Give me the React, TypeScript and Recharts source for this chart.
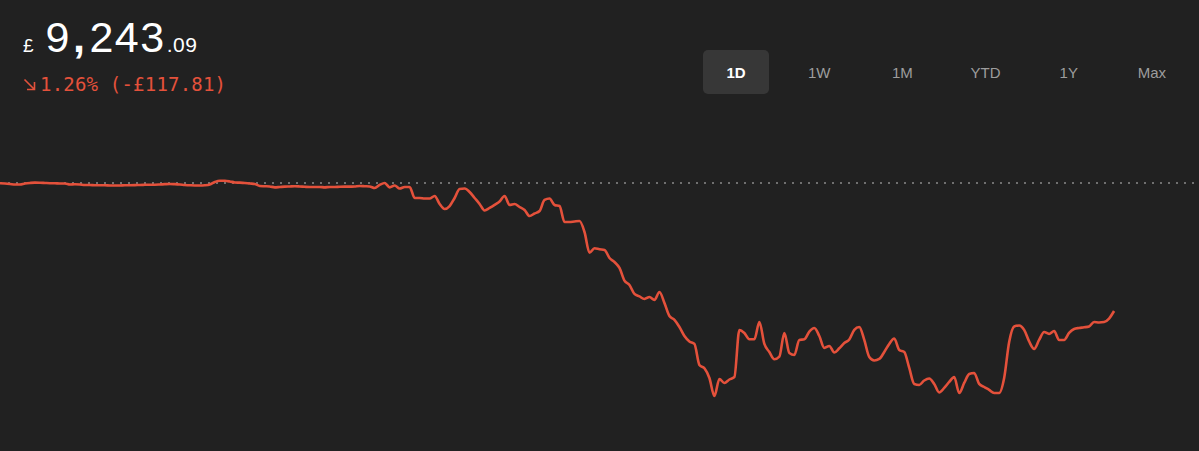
import { Line, LineChart, ReferenceLine, XAxis, YAxis } from 'recharts'

const CURRENCY = '£'
const PRICE_WHOLE = '9,243'
const PRICE_PENCE = '.09'
const CHANGE_LABEL = '1.26% (-£117.81)'
const RANGES = ['1D', '1W', '1M', 'YTD', '1Y', 'Max']
const ACTIVE_RANGE = '1D'

// whole trading session split into slots; the day is not finished yet
const SESSION_SLOTS = 240

// change against previous close (£), one reading per slot
const CHANGE = [
  -0.3, -0.5, -0.9, -1.4, -1.4, -0.5, 0, 0.3, 0.2, 0,
  -0.2, -0.3, -0.5, -0.5, -1.4, -1.2, -1.4, -1.8, -1.8, -2.1,
  -2.1, -2.1, -2.3, -2.3, -2.3, -2.1, -2.1, -2.0, -1.8, -1.7,
  -1.6, -1.6, -1.4, -1.1, -0.9, -1.1, -1.4, -1.8, -2.1, -2.3,
  -2.3, -2.1, -1.4, 0.9, 2.1, 2.0, 1.4, 0.5, 0.3, 0,
  -0.5, -0.9, -2.8, -3.0, -3.2, -4.0, -3.7, -3.4, -3.2, -3.0,
  -3.2, -3.5, -3.7, -3.7, -3.7, -4.0, -3.7, -3.7, -3.5, -3.4,
  -3.4, -3.2, -2.8, -3.0, -3.2, -4.6, -1.8, 0, -4.0, -2.3,
  -5.1, -3.7, -3.7, -13.8, -13.8, -14.3, -14.3, -12.0, -19.3, -23.9,
  -21.2, -13.8, -5.5, -5.1, -8.3, -13.8, -19.3, -25.3, -23.0, -20.2,
  -17.0, -12.0, -20.2, -19.3, -22.1, -24.8, -30.4, -28.1, -25.8, -15.6,
  -14.3, -20.2, -21.2, -35.9, -35.9, -35.4, -35.0, -45.1, -64.1, -60.1,
  -61.0, -61.6, -69.0, -72.7, -78.2, -89.9, -93.8, -102.1, -104.4, -106.7,
  -104.9, -107.6, -100.3, -110.4, -122.4, -126.0, -132.5, -140.8, -145.8, -148.1,
  -167.4, -170.5, -179.4, -196.0, -180.3, -184.0, -180.8, -178.5, -135.2, -138.0,
  -143.8, -143.8, -127.9, -148.1, -155.5, -162.2, -159.8, -138.0, -156.4, -158.2,
  -144.4, -143.8, -136.8, -133.4, -140.8, -151.8, -150.0, -155.9, -152.1, -147.2,
  -144.0, -135.2, -132.5, -144.4, -160.1, -163.3, -161.9, -155.5, -148.1, -143.1,
  -153.6, -155.5, -170.2, -184.9, -185.8, -181.7, -179.9, -184.9, -192.7, -188.6,
  -183.1, -178.5, -193.2, -184.0, -175.7, -174.8, -184.9, -187.7, -190.4, -193.2,
  -193.2, -179.4, -146.3, -132.0, -131.1, -135.2, -145.8, -152.7, -144.4, -137.1,
  -138.9, -136.2, -144.4, -144.4, -138.0, -134.3, -133.4, -132.8, -132.0, -127.9,
  -128.3, -127.9, -124.7, -117.8,
]

const data = CHANGE.map((change, slot) => ({ slot, change }))

const RED = '#e4513b'
const BG = '#212121'
const SANS = '"Liberation Sans", Arial, Helvetica, sans-serif'

function DownArrow() {
  return (
    <svg width={13} height={13} style={{ marginRight: 4 }}>
      <path
        d="M1.5 1.5 L11.5 11.5 M11.5 4 L11.5 11.5 L4 11.5"
        stroke={RED}
        strokeWidth={1.6}
        fill="none"
      />
    </svg>
  )
}

export default function App() {
  const [thousands, rest] = PRICE_WHOLE.split(',')
  return (
    <div
      style={{
        position: 'absolute',
        top: 0,
        left: 0,
        width: 1199,
        height: 451,
        background: BG,
        overflow: 'hidden',
        fontFamily: SANS,
      }}
    >
      <div
        style={{
          position: 'absolute',
          top: 15.6,
          left: 23,
          display: 'flex',
          alignItems: 'baseline',
          lineHeight: 1,
          color: '#ffffff',
        }}
      >
        <span style={{ fontSize: 19, marginRight: 12 }}>{CURRENCY}</span>
        <span style={{ fontSize: 43, letterSpacing: 1.5 }}>
          {thousands}
          <span style={{ margin: '0 3px 0 2px', fontWeight: 700 }}>,</span>
          {rest}
        </span>
        <span style={{ fontSize: 21, letterSpacing: 0.5, marginLeft: 1 }}>
          {PRICE_PENCE}
        </span>
      </div>

      <div
        style={{
          position: 'absolute',
          top: 75,
          left: 23,
          lineHeight: 1,
          fontSize: 19,
          letterSpacing: 0.2,
          color: RED,
          fontFamily: '"DejaVu Sans Mono", monospace',
          whiteSpace: 'pre',
        }}
      >
        <DownArrow />
        {CHANGE_LABEL}
      </div>

      <div
        style={{
          position: 'absolute',
          top: 50,
          left: 703,
          display: 'flex',
          gap: 17.2,
        }}
      >
        {RANGES.map((r) => {
          const active = r === ACTIVE_RANGE
          return (
            <div
              key={r}
              style={{
                width: 66,
                height: 44,
                borderRadius: 5,
                background: active ? '#373737' : 'transparent',
                color: active ? '#ffffff' : '#9d9d9d',
                fontWeight: active ? 700 : 400,
                fontSize: 15,
                display: 'flex',
                alignItems: 'center',
                justifyContent: 'center',
              }}
            >
              {r}
            </div>
          )
        })}
      </div>

      <div style={{ position: 'absolute', top: 0, left: 0 }}>
        <LineChart
          width={1199}
          height={451}
          data={data}
          margin={{ top: 139.5, right: 0, bottom: 28.9, left: 0 }}
        >
          <XAxis
            hide
            type="number"
            dataKey="slot"
            domain={[0, SESSION_SLOTS]}
          />
          <YAxis hide type="number" domain={[-220, 40]} allowDataOverflow />
          <ReferenceLine
            y={0}
            stroke="#8a8a8a"
            strokeWidth={1.5}
            strokeDasharray="2 6"
          />
          <Line
            type="monotone"
            dataKey="change"
            stroke={RED}
            strokeWidth={2.6}
            dot={false}
            isAnimationActive={false}
          />
        </LineChart>
      </div>
    </div>
  )
}
